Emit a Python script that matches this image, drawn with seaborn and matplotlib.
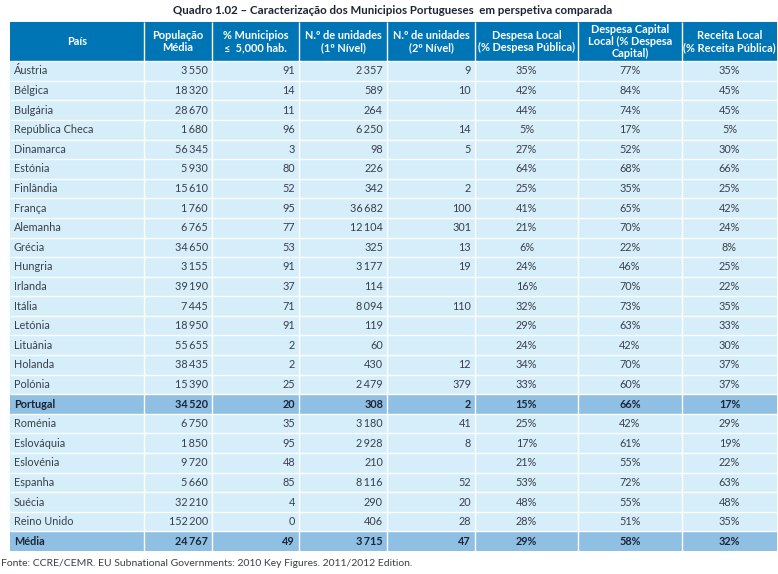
import numpy as np
import matplotlib
matplotlib.use("Agg")
import matplotlib.pyplot as plt
from matplotlib.colors import ListedColormap
import seaborn as sns

# ---------------- data ----------------
title = "Quadro 1.02 – Caracterização dos Municipios Portugueses  em perspetiva comparada"
source = "Fonte: CCRE/CEMR. EU Subnational Governments: 2010 Key Figures. 2011/2012 Edition."
headers = ["País", "População\nMédia", "% Municipios\n≤  5,000 hab.", "N.º de unidades\n(1º Nível)",
           "N.º de unidades\n(2º Nível)", "Despesa Local\n(% Despesa Pública)",
           "Despesa Capital\nLocal (% Despesa\nCapital)", "Receita Local\n(% Receita Pública)"]
countries = ["Áustria", "Bélgica", "Bulgária", "República Checa", "Dinamarca", "Estónia", "Finlândia",
             "França", "Alemanha", "Grécia", "Hungria", "Irlanda", "Itália", "Letónia", "Lituânia",
             "Holanda", "Polónia", "Portugal", "Roménia", "Eslováquia", "Eslovénia", "Espanha",
             "Suécia", "Reino Unido", "Média"]
populacao = [3550, 18320, 28670, 1680, 56345, 5930, 15610, 1760, 6765, 34650, 3155, 39190, 7445,
             18950, 55655, 38435, 15390, 34520, 6750, 1850, 9720, 5660, 32210, 152200, 24767]
pct_munic = [91, 14, 11, 96, 3, 80, 52, 95, 77, 53, 91, 37, 71, 91, 2, 2, 25, 20, 35, 95, 48, 85, 4, 0, 49]
nivel1 = [2357, 589, 264, 6250, 98, 226, 342, 36682, 12104, 325, 3177, 114, 8094, 119, 60, 430,
          2479, 308, 3180, 2928, 210, 8116, 290, 406, 3715]
nivel2 = [9, 10, None, 14, 5, None, 2, 100, 301, 13, 19, None, 110, None, None, 12, 379, 2, 41, 8,
          None, 52, 20, 28, 47]
despesa_local = [35, 42, 44, 5, 27, 64, 25, 41, 21, 6, 24, 16, 32, 29, 24, 34, 33, 15, 25, 17, 21,
                 53, 48, 28, 29]
despesa_capital = [77, 84, 74, 17, 52, 68, 35, 65, 70, 22, 46, 70, 73, 63, 42, 70, 60, 66, 42, 61,
                   55, 72, 55, 51, 58]
receita_local = [35, 45, 45, 5, 30, 66, 25, 42, 24, 8, 25, 22, 35, 33, 30, 37, 37, 17, 29, 19, 22,
                 63, 48, 35, 32]
highlight = ["Portugal", "Média"]

# ---------------- layout ----------------
W, H = 778, 574
col_edges = [10, 144, 212, 299, 387, 475, 578, 682, 777]
table_top, table_bottom = 22, 551

sns.set_theme(style="white")
plt.rcParams["font.family"] = ["Lato", "DejaVu Sans"]

fig = plt.figure(figsize=(W / 100, H / 100), dpi=100)
ax = fig.add_axes([col_edges[0] / W, 1 - table_bottom / H,
                   (col_edges[-1] - col_edges[0]) / W, (table_bottom - table_top) / H])

n = len(countries)
# row types: 2 = header (two grid rows), 0 = normal, 1 = highlighted
rowtype = [2, 2] + [1 if c in highlight else 0 for c in countries]
mat = np.array(rowtype, dtype=float)[:, None]
cmap = ListedColormap(["#d5eef9", "#8fbfe3", "#0075b5"])
sns.heatmap(mat, ax=ax, cmap=cmap, vmin=-0.5, vmax=2.5, cbar=False,
            xticklabels=False, yticklabels=False, linewidths=0)

span = col_edges[-1] - col_edges[0]
fx = [(e - col_edges[0]) / span for e in col_edges]

# grid lines
ax.vlines(fx[1:-1], 0, n + 2, colors="white", lw=1.0)
ax.hlines(np.arange(2, n + 2), 0, 1, colors="white", lw=1.0)

# header text
for j, h in enumerate(headers):
    ax.text((fx[j] + fx[j + 1]) / 2, 1.0, h, ha="center", va="center", color="white",
            fontsize=7.9, fontweight="bold", linespacing=1.1)


def fmt_int(v):
    if v is None:
        return ""
    return f"{v:,}".replace(",", "\u2009")


pad = 4 / span
txt_color = "#3a3f4a"
for i in range(n):
    y = 2 + i + 0.5
    bold = countries[i] in highlight
    fw = "bold" if bold else "normal"
    col = "#1d2535" if bold else txt_color
    ax.text(fx[0] + 4 / span, y, countries[i], ha="left", va="center", fontsize=7.8,
            color=col, fontweight=fw)
    for j, vals in enumerate([populacao, pct_munic, nivel1, nivel2], start=1):
        ax.text(fx[j + 1] - pad, y, fmt_int(vals[i]), ha="right", va="center", fontsize=7.8,
                color=col, fontweight=fw)
    for j, vals in enumerate([despesa_local, despesa_capital, receita_local], start=5):
        ax.text((fx[j] + fx[j + 1]) / 2, y, f"{vals[i]}%", ha="center", va="center",
                fontsize=7.8, color=col, fontweight=fw)

ax.set_xlim(0, 1)
ax.set_ylim(n + 2, 0)
for s in ax.spines.values():
    s.set_visible(False)

fig.text(393 / W, 1 - 11 / H, title, ha="center", va="center", fontsize=8.3,
         fontweight="bold", color="#1d2535")
fig.text(1 / W, 1 - 563 / H, source, ha="left", va="center", fontsize=7.5, color="#3a3f4a")

fig.savefig("out.png", dpi=100)
